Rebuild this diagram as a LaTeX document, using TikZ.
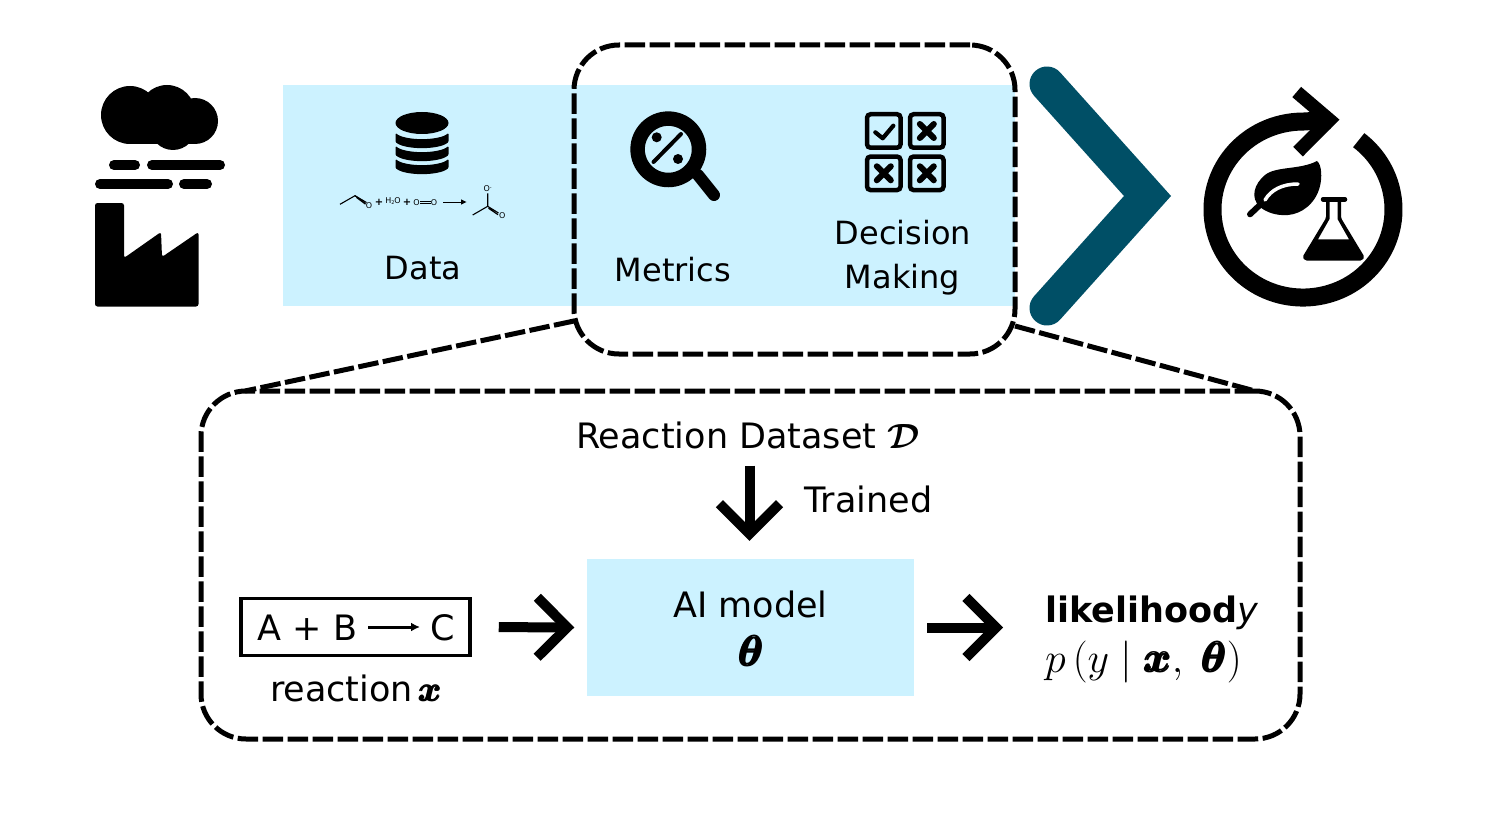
\RequirePackage{fix-cm}
\documentclass[tikz,border=0pt]{standalone}
\usepackage{amsmath}
\usepackage{fontspec}
\setmainfont{DejaVu Sans}
\usetikzlibrary{arrows.meta}
\definecolor{paleblue}{HTML}{CCF2FF}
\definecolor{deepteal}{HTML}{004F66}
\newcommand{\fsz}[1]{\fontsize{#1}{#1}\selectfont}
\newcommand{\hvb}[1]{\pmb{\boldsymbol{#1}}}
\tikzset{
  x=1pt,y=-1pt,
  dashbox/.style={draw=black,line width=5pt,dash pattern=on 20.5pt off 4.5pt,rounded corners=45pt,inner sep=0pt},
  dashlink/.style={draw=black,line width=5pt,dash pattern=on 20.5pt off 4.5pt},
  bigtxt/.style={inner sep=0pt,anchor=base,font=\fsz{32}},
  bigarrow/.style={draw=black,line width=10pt,-{Straight Barb[length=30pt,width=60pt,line width=10pt]}},
  chem/.style={line width=1.1pt},
  chemtxt/.style={inner sep=0pt,font=\fsz{8}},
  tick/.style={line width=4.2pt,line cap=round,line join=round},
  cross/.style={line width=6pt,line cap=round},
  cbox/.style={draw=black,line width=4.5pt,rounded corners=3.5pt,minimum size=33.5pt,inner sep=0pt},
  smog/.style={line width=10pt,line cap=round},
}
\begin{document}
\begin{tikzpicture}
\useasboundingbox (0,0) rectangle (1498,821);
% panels
\node[fill=paleblue,inner sep=0pt,minimum width=732pt,minimum height=221pt] (band) at (649,195.5) {};
\node[fill=paleblue,inner sep=0pt,minimum width=327pt,minimum height=137pt] (model) at (750.5,627.5) {};
% factory
\fill[rounded corners=2.5pt] (95,203) -- (124,203) -- (124,258) -- (161,232) -- (162,257) -- (198.5,232) -- (198.5,306.5) -- (95,306.5) -- cycle;
\fill (130,115) circle[radius=29pt] (167,113) circle[radius=28pt] (195,121) circle[radius=23pt] (173,127) circle[radius=23pt];
\fill (130,118) rectangle (195,144);
\draw[smog] (114,165) -- (135,165) (152,165) -- (220,165) (100,184) -- (168,184) (184,184) -- (207,184);
% database
\fill (422,123) ellipse[x radius=26.5pt,y radius=11pt];
\foreach \yy in {133,146,159}{
  \fill[rounded corners=1pt] (395.5,\yy) .. controls (405,\yy+8) and (439,\yy+8) .. (448.5,\yy) -- (448.5,\yy+9) .. controls (439,\yy+17) and (405,\yy+17) .. (395.5,\yy+9) -- cycle;
}
% reaction scheme
\node[chemtxt] (o1) at (369,205.7) {O};
\draw[chem] (340,204.3) -- (355,195.7) -- (365.5,203.5);
\draw[chem] (356.5,197.5) -- (365.5,204.2) (355,195.7) -- (366.5,202.5);
\node[inner sep=0pt,font=\bfseries\fsz{10}] (p1) at (379,202) {+};
\node[chemtxt] (w) at (393,201.5) {H\raisebox{-1pt}{\fsz{5}2}O};
\node[inner sep=0pt,font=\bfseries\fsz{10}] (p2) at (407,202) {+};
\node[chemtxt] (o2) at (416.5,202.5) {O};
\node[chemtxt] (o3) at (434,202.5) {O};
\draw[chem,line width=.9pt] (o2.east)++(.5,-1.2) -- (430.5,201.3) (o2.east)++(.5,1.2) -- (430.5,203.7);
\fill (443.3,201.5) rectangle (462,202.6);
\fill (461,199.3) -- (466.5,202) -- (461,204.7) -- cycle;
\node[chemtxt] (o4) at (487.7,189) {O\raisebox{2.5pt}{\fsz{5}-}};
\node[chemtxt] (o5) at (502.3,215.3) {O};
\draw[chem] (472.7,215) -- (487.7,206.3) -- (487.7,193.5);
\draw[chem] (487.7,206.3) -- (498.5,213) (488.5,208.3) -- (498,214.7);
% magnifier
\draw[line width=14.5pt] (668.3,149.3) circle[radius=30.7pt];
\draw[line width=12pt,line cap=round] (698,175) -- (714,195);
\draw[line width=4pt,line cap=round] (653.5,162) -- (681,134);
\fill (656.7,137.3) circle[radius=5pt] (678,159) circle[radius=5pt];
% decision grid
\node[cbox] (c1) at (883.8,131) {};
\node[cbox] (c2) at (926.8,131) {};
\node[cbox] (c3) at (883.8,173.3) {};
\node[cbox] (c4) at (926.8,173.3) {};
\draw[tick] (875.3,132.3) -- (882.7,138.3) -- (893.3,125.7);
\draw[cross] (c2.center)++(-7,-7) -- ++(14,14) (c2.center)++(7,-7) -- ++(-14,14);
\draw[cross] (c3.center)++(-7,-7) -- ++(14,14) (c3.center)++(7,-7) -- ++(-14,14);
\draw[cross] (c4.center)++(-7,-7) -- ++(14,14) (c4.center)++(7,-7) -- ++(-14,14);
% labels top
\node[bigtxt] (data) at (423,279.5) {Data};
\node[bigtxt] (metrics) at (673,281) {Metrics};
\node[bigtxt] (decision) at (903,244) {Decision};
\node[bigtxt] (making) at (902.5,288) {Making};
% chevron
\draw[draw=deepteal,line width=35pt,line cap=round,miter limit=10] (1047,84) -- (1147.5,196) -- (1047,308);
% dashed boxes
\node[dashbox,minimum width=441pt,minimum height=309pt] (focus) at (794.5,199.5) {};
\node[dashbox,minimum width=1099pt,minimum height=348pt] (detail) at (750.5,565) {};
\coordinate (la) at (574,321);
\coordinate (lb) at (245,391);
\coordinate (ra) at (1015,326);
\coordinate (rb) at (1255,391);
\draw[dashlink] (la) -- (lb);
\draw[dashlink] (ra) -- (rb);
% sustainability icon
\draw[line width=18pt] (1358.7,140.2) arc[start angle=52,end angle=-270,x radius=90.5pt,y radius=88pt] -- (1330,120);
\draw[line width=13.5pt,miter limit=10] (1296.7,92) -- (1329.5,120) -- (1298,151.7);
\fill (1317,161) .. controls (1322,165) and (1322,178) .. (1320,186) .. controls (1316,203) and (1302,214) .. (1288,215) .. controls (1276,216) and (1266,212) .. (1260,207) .. controls (1250,198) and (1254,184) .. (1265,175) .. controls (1276,166) and (1300,170) .. cycle;
\draw[line width=6pt,line cap=round] (1250,214.3) -- (1262,203);
\draw[white,line width=3.5pt,line cap=round] (1265,200) .. controls (1271,190) and (1282,184) .. (1298,184);
\draw[line width=4.5pt,line cap=round] (1323,199.3) -- (1345,199.3);
\fill[even odd rule,rounded corners=1.5pt] (1326,200) -- (1341,200) -- (1341,218) -- (1364.5,257) -- (1362,260.5) -- (1305,260.5) -- (1302.5,257) -- (1326,218) -- cycle
 [sharp corners] (1329.5,201) -- (1337.5,201) -- (1337.5,219) -- (1349,239.3) -- (1318,239.3) -- (1329.5,219) -- cycle;
% lower panel
\node[bigtxt,font=\fsz{35}] (dataset) at (748,448) {Reaction Dataset $\boldsymbol{\mathcal{D}}$};
\node[bigtxt,font=\fsz{35}] (trained) at (868.5,512) {Trained};
\node[bigtxt,font=\fsz{35}] (ai) at (750.5,617) {AI model};
\node[bigtxt,font=\fsz{42}] (theta) at (751.5,666) {$\hvb{\theta}$};
\node[draw=black,line width=3.5pt,inner sep=0pt,minimum width=229pt,minimum height=57pt] (rxn) at (355.5,627) {};
\node[bigtxt,font=\fsz{35}] (ab) at (307.5,640) {A + B};
\node[bigtxt,font=\fsz{35}] (cc) at (443,640) {C};
\draw[line width=3pt,-{Latex[length=9pt,width=9pt]}] (368,627) -- (420,627);
\node[bigtxt,font=\fsz{35}] (rlab) at (356,701) {reaction\,$\hvb{x}$};
\node[inner sep=0pt,anchor=base west,font=\fsz{35}] (lik) at (1045,622) {\textbf{likelihood}\textit{y}};
\node[inner sep=0pt,anchor=base west,font=\fsz{42}] (plik) at (1045,672) {$p\,(y\mid\hvb{x},\;\hvb{\theta})$};
% big arrows
\coordinate (vtop) at ([xshift=-1pt]dataset.south -| model.north);
\coordinate (vend) at ([xshift=-1pt]model.north);
\draw[bigarrow,shorten <=17pt,shorten >=18pt] (vtop) -- (vend);
\draw[bigarrow,shorten <=27pt,shorten >=12.5pt] (rxn.east) -- (model.west);
\draw[bigarrow,shorten <=13pt,shorten >=42pt] (model.east) -- (model.east -| lik.west);
\end{tikzpicture}
\end{document}
